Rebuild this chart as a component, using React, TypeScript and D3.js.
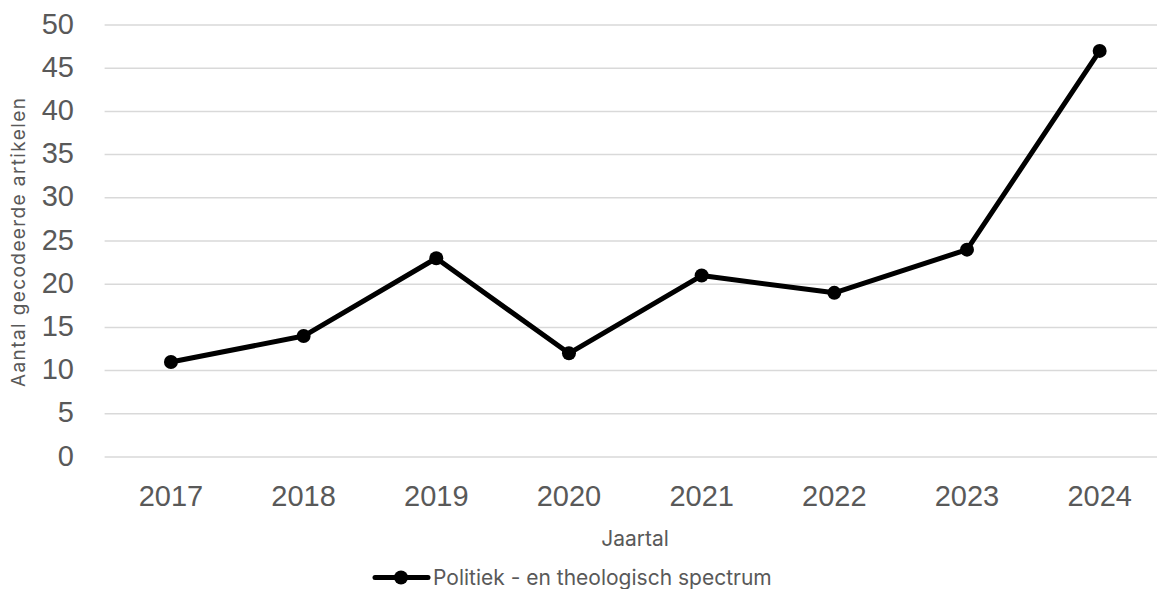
import React from "react";
import * as d3 from "d3";

const years = ["2017", "2018", "2019", "2020", "2021", "2022", "2023", "2024"];
const counts = [11, 14, 23, 12, 21, 19, 24, 47];
const yTicks = [0, 5, 10, 15, 20, 25, 30, 35, 40, 45, 50];
const seriesName = "Politiek - en theologisch spectrum";
const xTitle = "Jaartal";
const yTitle = "Aantal gecodeerde artikelen";

export default function App() {
  const W = 1157, H = 589;
  const left = 104.6, right = 1166, top = 25, bottom = 457;
  const x = d3.scaleBand<string>().domain(years).range([left, right]);
  const y = d3.scaleLinear().domain([0, 50]).range([bottom, top]);
  const cx = (d: string) => (x(d) as number) + x.bandwidth() / 2;
  const line = d3.line<number>().x((_, i) => cx(years[i])).y((d) => y(d));
  const tickFont = "'Liberation Sans', Arial, sans-serif";
  const titleFont = "Inter, 'Open Sans', sans-serif";
  return (
    <svg width={W} height={H} style={{ position: "absolute", left: 0, top: 0 }}>
      <rect width={W} height={H} fill="#fff" />
      {yTicks.map((t) => (
        <g key={t}>
          <line x1={left} x2={W} y1={y(t)} y2={y(t)} stroke="#d9d9d9" strokeWidth={1.5} />
          <text x={74} y={y(t) - 1.5} dy="0.35em" textAnchor="end" fontSize={29} fill="#595959" fontFamily={tickFont}>{t}</text>
        </g>
      ))}
      {years.map((yr) => (
        <text key={yr} x={cx(yr)} y={496} dy="0.35em" textAnchor="middle" fontSize={29} fill="#595959" fontFamily={tickFont}>{yr}</text>
      ))}
      <text transform={`translate(18,${(98 + 387) / 2}) rotate(-90)`} textAnchor="middle" dy="0.35em" fontSize={19} fill="#595959" fontFamily={titleFont} textLength={289} lengthAdjust="spacing">{yTitle}</text>
      <text x={635} y={539} dy="0.35em" textAnchor="middle" fontSize={21} fill="#595959" fontFamily={titleFont}>{xTitle}</text>
      <path d={line(counts) || ""} fill="none" stroke="#000" strokeWidth={5} strokeLinejoin="round" />
      {counts.map((v, i) => (
        <circle key={i} cx={cx(years[i])} cy={y(v)} r={7} fill="#000" />
      ))}
      <line x1={375} x2={428} y1={577.5} y2={577.5} stroke="#000" strokeWidth={5} strokeLinecap="round" />
      <circle cx={401} cy={577.5} r={7} fill="#000" />
      <text x={433} y={577.5} dy="0.35em" fontSize={21} fill="#595959" fontFamily={titleFont}>{seriesName}</text>
    </svg>
  );
}
